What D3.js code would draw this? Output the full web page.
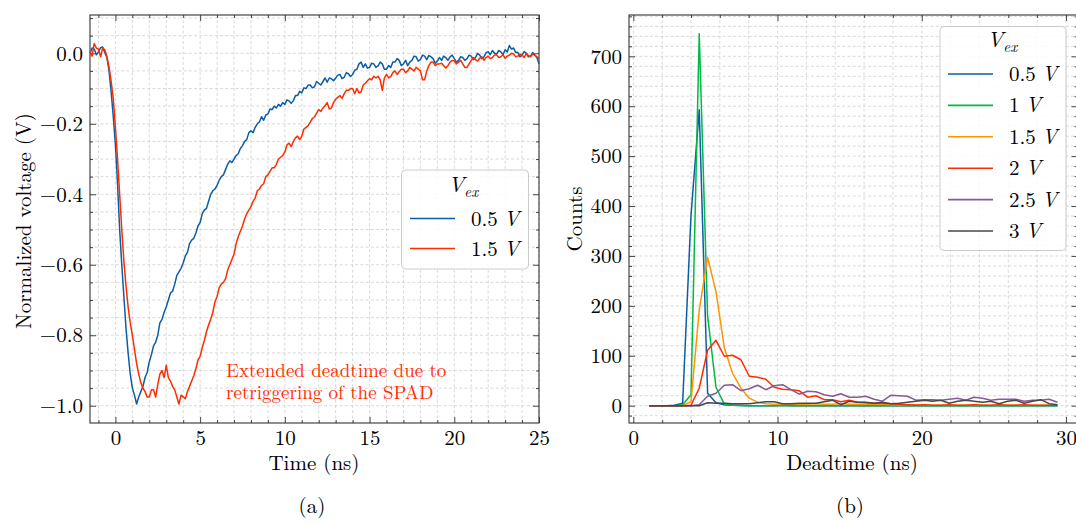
<!DOCTYPE html>
<html><head><meta charset="utf-8">
<script src="https://cdn.jsdelivr.net/npm/d3@7"></script>
<style>
body{margin:0;background:#fff}
svg{display:block}
text{font-family:"Latin Modern Roman","CMU Serif","Liberation Serif",serif;fill:#000}
</style>
</head><body><svg id="c" width="1076" height="523"></svg>
<script>
// ---------- data: panel (a) : normalized pulses, sampled every 0.125 ns from -1.5 ns ----------
const timeStart = -1.5, timeStep = 0.125;   // ns
const pulse05 = [
  0.000, 0.015, 0.012, -0.004, 0.004, 0.016, 0.018, 0.002,
  -0.012, -0.05, -0.11, -0.18, -0.26, -0.37, -0.50, -0.60,
  -0.69, -0.78, -0.85, -0.91, -0.95, -0.97, -0.995, -0.975,
  -0.96, -0.945, -0.92, -0.905, -0.875, -0.855, -0.83, -0.82,
  -0.80, -0.765, -0.755, -0.735, -0.72, -0.70, -0.68, -0.675,
  -0.655, -0.63, -0.62, -0.61, -0.595, -0.575, -0.565, -0.54,
  -0.53, -0.525, -0.51, -0.49, -0.48, -0.455, -0.445, -0.44,
  -0.42, -0.40, -0.39, -0.385, -0.375, -0.36, -0.35, -0.345,
  -0.33, -0.315, -0.305, -0.31, -0.30, -0.29, -0.285, -0.27,
  -0.262, -0.25, -0.245, -0.225, -0.22, -0.225, -0.21, -0.20,
  -0.195, -0.18, -0.19, -0.175, -0.172, -0.158, -0.16, -0.15,
  -0.155, -0.145, -0.15, -0.14, -0.145, -0.132, -0.135, -0.142,
  -0.135, -0.12, -0.12, -0.108, -0.112, -0.098, -0.10, -0.09,
  -0.09, -0.098, -0.095, -0.08, -0.085, -0.09, -0.08, -0.07,
  -0.082, -0.07, -0.072, -0.078, -0.07, -0.062, -0.06, -0.072,
  -0.068, -0.055, -0.058, -0.066, -0.06, -0.048, -0.045, -0.03,
  -0.025, -0.04, -0.03, -0.042, -0.04, -0.028, -0.03, -0.04,
  -0.036, -0.025, -0.03, -0.045, -0.045, -0.035, -0.04, -0.025,
  -0.025, -0.015, -0.02, -0.035, -0.03, -0.02, -0.035, -0.025,
  -0.02, -0.008, -0.01, -0.022, -0.018, -0.005, -0.008, -0.018,
  -0.006, -0.01, -0.015, -0.028, -0.022, -0.012, -0.02, -0.008,
  -0.012, -0.02, -0.01, -0.005, -0.015, -0.025, -0.02, -0.01,
  -0.012, -0.02, -0.015, -0.005, -0.008, -0.018, -0.012, 0.0,
  -0.005, -0.015, -0.01, 0.002, 0.005, -0.004, 0.008, 0.0,
  -0.002, 0.008, 0.004, -0.004, 0.01, 0.004, 0.022, 0.012,
  0.015, 0.002, 0.003, -0.01, -0.005, 0.005, 0.0, -0.01,
  -0.008, 0.002, -0.005, -0.012, -0.03
];
const pulse15 = [
  0.005, -0.008, 0.028, 0.015, 0.012, -0.01, 0.015, 0.01,
  -0.01, -0.04, -0.08, -0.13, -0.21, -0.30, -0.40, -0.50,
  -0.59, -0.66, -0.72, -0.765, -0.80, -0.84, -0.88, -0.91,
  -0.935, -0.95, -0.96, -0.975, -0.975, -0.955, -0.955, -0.975,
  -0.94, -0.91, -0.90, -0.92, -0.885, -0.92, -0.93, -0.945,
  -0.955, -0.975, -0.995, -0.97, -0.975, -0.98, -0.96, -0.945,
  -0.93, -0.915, -0.895, -0.87, -0.86, -0.835, -0.815, -0.79,
  -0.77, -0.755, -0.735, -0.705, -0.69, -0.665, -0.655, -0.65,
  -0.64, -0.615, -0.60, -0.585, -0.57, -0.54, -0.52, -0.505,
  -0.49, -0.47, -0.455, -0.445, -0.435, -0.42, -0.41, -0.39,
  -0.385, -0.375, -0.37, -0.35, -0.345, -0.335, -0.325, -0.325,
  -0.315, -0.30, -0.295, -0.29, -0.28, -0.26, -0.255, -0.265,
  -0.25, -0.24, -0.235, -0.245, -0.235, -0.215, -0.21, -0.205,
  -0.195, -0.185, -0.18, -0.17, -0.16, -0.165, -0.155, -0.148,
  -0.14, -0.158, -0.155, -0.14, -0.13, -0.125, -0.12, -0.128,
  -0.115, -0.105, -0.105, -0.1, -0.10, -0.115, -0.10, -0.112,
  -0.11, -0.09, -0.085, -0.078, -0.072, -0.075, -0.065, -0.07,
  -0.065, -0.075, -0.105, -0.07, -0.06, -0.07, -0.066, -0.055,
  -0.05, -0.06, -0.052, -0.045, -0.045, -0.055, -0.05, -0.04,
  -0.045, -0.05, -0.04, -0.045, -0.05, -0.075, -0.075, -0.05,
  -0.035, -0.025, -0.025, -0.035, -0.03, -0.03, -0.028, -0.035,
  -0.042, -0.035, -0.025, -0.02, -0.022, -0.03, -0.025, -0.02,
  -0.03, -0.04, -0.04, -0.03, -0.02, -0.012, -0.018, -0.022,
  -0.014, -0.01, -0.02, -0.012, -0.008, -0.015, -0.012, -0.005,
  -0.005, -0.012, -0.01, -0.004, -0.014, -0.008, -0.005, 0.0,
  -0.002, -0.01, -0.008, -0.002, -0.005, -0.012, 0.0, -0.006,
  -0.01, -0.002, -0.005, -0.01, -0.014
];
const pulseLabels = ["0.5", "1.5"];
const timeTicks = [0, 5, 10, 15, 20, 25];
const voltTicks = [0.0, -0.2, -0.4, -0.6, -0.8, -1.0];

// ---------- data: panel (b) ----------
const deadtimeBins = [
  1.11, 1.69, 2.27, 2.84, 3.42, 4.00, 4.57, 5.15, 5.73, 6.31,
  6.88, 7.46, 8.04, 8.62, 9.19, 9.77, 10.35, 10.93, 11.50, 12.08,
  12.66, 13.24, 13.81, 14.39, 14.97, 15.55, 16.12, 16.70, 17.28, 17.86,
  18.43, 19.01, 19.59, 20.17, 20.74, 21.32, 21.90, 22.48, 23.05, 23.63,
  24.21, 24.79, 25.37, 25.94, 26.52, 27.10, 27.68, 28.25, 28.83, 29.41
];
const counts05 = [
  0,0,0,1,5,382,593,25,6,2, 1,1,0,0,0,0,1,0,0,0,
  0,0,0,0,0,0,0,0,0,0, 0,0,0,0,0,0,0,0,0,0, 0,0,0,0,0,0,0,0,0,0
];
const counts1 = [
  0,0,0,0,2,22,745,180,37,3, 1,0,0,0,0,0,0,0,0,0,
  0,0,0,0,0,0,0,0,0,0, 0,0,0,0,0,0,0,0,0,0, 0,0,0,0,0,0,0,0,0,0
];
const counts15 = [
  0,0,0,0,0,8,192,297,229,116, 65,35,15,7,4,3,3,3,3,3,
  4,3,3,4,3,3,3,3,3,2, 2,2,2,1,1,1,1,1,1,1, 1,1,1,1,1,1,1,1,1,1
];
const counts2 = [
  0,0,0,0,0,1,35,111,131,99, 101,92,59,57,53,37,33,32,30,17,
  20,12,12,8,11,7,6,5,5,4, 3,2,1,2,1,1,2,1,1,2, 1,1,2,1,1,2,1,1,1,1
];
const counts25 = [
  0,0,0,0,0,0,2,19,25,41, 42,30,34,41,32,40,42,32,23,29,
  28,22,19,24,17,17,19,13,9,21, 20,19,11,12,12,11,13,15,11,17, 15,11,13,13,13,9,11,11,13,7
];
const counts3 = [
  0,0,0,0,0,0,0,6,5,5, 4,4,4,6,8,8,4,4,5,5,
  5,8,11,2,9,7,7,5,7,4, 5,7,9,11,9,11,5,9,11,9, 7,9,4,9,11,5,9,12,4,2
];
const countLabels = ["0.5", "1", "1.5", "2", "2.5", "3"];
const deadTicks = [0, 10, 20, 30];
const countTicks = [0, 100, 200, 300, 400, 500, 600, 700];

const palette = ['#0C5DA5', '#00B945', '#FF9500', '#FF2C00', '#845B97', '#474747'];

// ---------- drawing ----------
const svg = d3.select('#c');
const FS = 21;
const FONT = '"Latin Modern Roman","CMU Serif","Liberation Serif",serif';

function panel(opt) {
  const {x, y, xMajor, xMinor, yMajor, yMinor, fx, fy} = opt;
  const g = svg.append('g');
  const [x0, x1] = x.range(), [y0, y1] = y.range();
  const grid = g.append('g').attr('stroke', '#c8c8c8').attr('stroke-width', 0.7)
    .attr('stroke-dasharray', '3,2.2');
  xMajor.concat(xMinor).forEach(v => {
    const p = x(v); if (p < x0 || p > x1) return;
    grid.append('line').attr('x1', p).attr('x2', p).attr('y1', y1).attr('y2', y0);
  });
  yMajor.concat(yMinor).forEach(v => {
    const p = y(v); if (p > y0 || p < y1) return;
    grid.append('line').attr('y1', p).attr('y2', p).attr('x1', x0).attr('x2', x1);
  });
  const tk = (ax, vals, size) => ax.tickValues(vals).tickSizeInner(size).tickSizeOuter(0);
  const style = a => {
    a.select('.domain').remove();
    a.selectAll('line').attr('stroke', '#333').attr('stroke-width', 0.9);
    a.selectAll('text').attr('font-size', FS).attr('fill', '#000').attr('font-family', FONT);
  };
  [[d3.axisBottom, y0, true], [d3.axisTop, y1, false]].forEach(([f, pos, lab]) => {
    style(g.append('g').attr('transform', `translate(0,${pos})`).call(tk(f(x), xMinor, -3).tickFormat('')));
    style(g.append('g').attr('transform', `translate(0,${pos})`).call(tk(f(x), xMajor, -6).tickPadding(7).tickFormat(lab ? fx : '')));
  });
  [[d3.axisLeft, x0, true], [d3.axisRight, x1, false]].forEach(([f, pos, lab]) => {
    style(g.append('g').attr('transform', `translate(${pos},0)`).call(tk(f(y), yMinor, -3).tickFormat('')));
    style(g.append('g').attr('transform', `translate(${pos},0)`).call(tk(f(y), yMajor, -6).tickPadding(7).tickFormat(lab ? fy : '')));
  });
  g.append('rect').attr('x', x0).attr('y', y1).attr('width', x1 - x0).attr('height', y0 - y1)
    .attr('fill', 'none').attr('stroke', '#333').attr('stroke-width', 1.1);
  return g;
}

function legend(g, x, y, w, h, titleX, titleY, items, lineX, textX, rowY, dy) {
  const L = g.append('g');
  L.append('rect').attr('x', x).attr('y', y).attr('width', w).attr('height', h).attr('rx', 4)
    .attr('fill', '#fff').attr('fill-opacity', 0.85).attr('stroke', '#cccccc').attr('stroke-width', 1);
  const t = L.append('text').attr('x', titleX).attr('y', titleY).attr('font-size', FS + 1).attr('text-anchor', 'middle');
  t.append('tspan').attr('font-style', 'italic').text('V');
  t.append('tspan').attr('font-style', 'italic').attr('font-size', 15).attr('dy', 5).text('ex');
  items.forEach((it, i) => {
    const yy = rowY + i * dy;
    L.append('line').attr('x1', lineX).attr('x2', lineX + 45).attr('y1', yy).attr('y2', yy)
      .attr('stroke', it.color).attr('stroke-width', 1.6);
    const tx = L.append('text').attr('x', textX).attr('y', yy + 7).attr('font-size', FS);
    tx.append('tspan').text(it.label);
    tx.append('tspan').attr('font-style', 'italic').attr('dx', 6).text('V');
  });
}

function label(txt, x, y, rotate) {
  const t = svg.append('text').attr('text-anchor', 'middle').attr('font-size', FS).text(txt);
  if (rotate) t.attr('transform', `translate(${x},${y}) rotate(-90)`);
  else t.attr('x', x).attr('y', y);
  return t;
}

// ----- panel (a) -----
const xa = d3.scaleLinear().domain([-1.5, 25]).range([90, 539]);
const ya = d3.scaleLinear().domain([-1.049, 0.1087]).range([423, 15]);
const ga = panel({
  x: xa, y: ya,
  xMajor: timeTicks, xMinor: d3.range(-1, 26, 1).filter(v => v % 5 !== 0),
  yMajor: voltTicks, yMinor: [0.1, 0.05, -0.05, -0.1, -0.15, -0.25, -0.3, -0.35, -0.45, -0.5, -0.55, -0.65, -0.7, -0.75, -0.85, -0.9, -0.95],
  fx: d3.format('d'), fy: d3.format('.1f')
});
const times = pulse05.map((_, i) => timeStart + i * timeStep);
const lineA = d3.line().x((d, i) => xa(times[i])).y(d => ya(d));
[[pulse05, palette[0]], [pulse15, palette[3]]].forEach(([s, c]) => {
  ga.append('path').datum(s).attr('d', lineA).attr('fill', 'none').attr('stroke', c)
    .attr('stroke-width', 1.5).attr('stroke-linejoin', 'round');
});
ga.append('text').attr('x', 226).attr('y', 377).attr('font-size', 19)
  .style('fill', '#FF2C00').text('Extended deadtime due to');
ga.append('text').attr('x', 226).attr('y', 399).attr('font-size', 19)
  .style('fill', '#FF2C00').text('retriggering of the SPAD');
legend(ga, 401.5, 170, 127, 99, 463, 192,
  pulseLabels.map((l, i) => ({label: l, color: [palette[0], palette[3]][i]})),
  410, 471, 218.5, 30);
label('Time (ns)', 314, 470, false);
label('Normalized voltage (V)', 31, 221, true);
label('(a)', 312, 513, false);

// ----- panel (b) -----
const xb = d3.scaleLinear().domain([-0.3, 30.8]).range([629, 1077.5]);
const yb = d3.scaleLinear().domain([-34.7, 782.8]).range([423, 15]);
const gb = panel({
  x: xb, y: yb,
  xMajor: deadTicks, xMinor: d3.range(2, 31, 2).filter(v => v % 10 !== 0),
  yMajor: countTicks, yMinor: d3.range(-20, 781, 20).filter(v => v % 100 !== 0),
  fx: d3.format('d'), fy: d3.format('d')
});
const series = [counts05, counts1, counts15, counts2, counts25, counts3];
const lineB = d3.line().x((d, i) => xb(deadtimeBins[i])).y(d => yb(d));
series.forEach((s, i) => {
  gb.append('path').datum(s).attr('d', lineB).attr('fill', 'none').attr('stroke', palette[i])
    .attr('stroke-width', 1.5).attr('stroke-linejoin', 'round');
});
legend(gb, 940, 26.5, 126, 224, 1002, 47,
  countLabels.map((l, i) => ({label: l, color: palette[i]})),
  948, 1009, 74, 31.4);
label('Deadtime (ns)', 852, 470, false);
label('Counts', 582, 219, true);
label('(b)', 850, 513, false);
</script>
</body></html>
